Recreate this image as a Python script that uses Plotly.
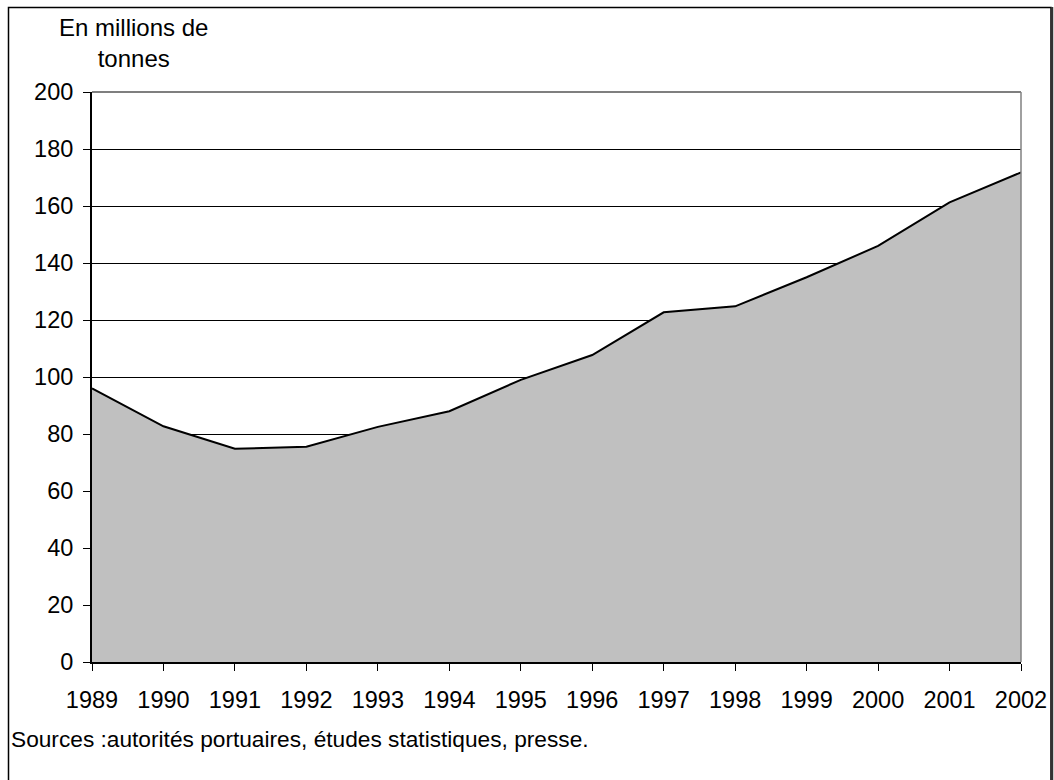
import plotly.graph_objects as go

years = [1989, 1990, 1991, 1992, 1993, 1994, 1995, 1996, 1997, 1998, 1999, 2000, 2001, 2002]
tonnes = [96, 82.7, 74.8, 75.5, 82.5, 88, 99, 107.7, 122.7, 124.8, 135, 146, 161.3, 171.8]
y_ticks = [0, 20, 40, 60, 80, 100, 120, 140, 160, 180, 200]
unit_label = "En millions de<br>tonnes"
source_text = "Sources :autorités portuaires, études statistiques, presse."

FONT = "Liberation Sans, Arial, sans-serif"

fig = go.Figure()
fig.add_trace(go.Scatter(
    x=years, y=tonnes, mode="lines", fill="tozeroy",
    fillcolor="#C0C0C0", line=dict(color="black", width=2),
    hoverinfo="skip", showlegend=False,
))

L, R, T, B = 92, 33, 92, 118
W, H = 1054, 780
pw, ph = W - L - R, H - T - B

def px_x(x):
    return (x - L) / pw

def px_y(y):
    return (H - B - y) / ph

fig.update_layout(
    width=W, height=H,
    margin=dict(l=L, r=R, t=T, b=B, autoexpand=False),
    paper_bgcolor="white", plot_bgcolor="white",
    font=dict(family=FONT, color="black", size=23),
    xaxis=dict(
        range=[1989, 2002], tickmode="array", tickvals=years,
        ticktext=[str(y) for y in years],
        showgrid=False, zeroline=False,
        showline=True, linecolor="black", linewidth=2,
        ticks="outside", ticklen=7, tickwidth=1, tickcolor="black",
        tickfont=dict(size=23.5), ticklabelstandoff=9,
    ),
    yaxis=dict(
        range=[0, 200], tickmode="array", tickvals=y_ticks,
        showgrid=True, gridcolor="black", gridwidth=1,
        zeroline=False, showline=True, linecolor="black", linewidth=2,
        ticks="outside", ticklen=7, tickwidth=1, tickcolor="black",
        tickfont=dict(size=23.5), ticklabelstandoff=5,
    ),
    shapes=[
        dict(type="line", xref="paper", yref="paper", x0=0, x1=1, y0=1, y1=1,
             line=dict(color="#555555", width=1.5)),
        dict(type="line", xref="paper", yref="paper", x0=1, x1=1, y0=0, y1=1,
             line=dict(color="#808080", width=1.5)),
        dict(type="rect", xref="paper", yref="paper",
             x0=px_x(8.5), x1=px_x(1051), y0=px_y(7.5), y1=px_y(790),
             line=dict(color="black", width=1.5)),
        dict(type="line", xref="paper", yref="paper",
             x0=px_x(1052), x1=px_x(1052), y0=px_y(7), y1=px_y(790),
             line=dict(color="#333333", width=2.5)),
    ],
    annotations=[
        dict(text=unit_label, xref="paper", yref="paper",
             x=px_x(133), y=px_y(43), xanchor="center", yanchor="middle",
             showarrow=False, align="center", font=dict(size=24)),
        dict(text=source_text, xref="paper", yref="paper",
             x=px_x(9), y=px_y(739), xanchor="left", yanchor="middle",
             showarrow=False, align="left", font=dict(size=22.7)),
    ],
)

fig.write_html(
    "out.html",
    config={"displayModeBar": False},
    post_script="document.body.style.margin='0';document.body.style.overflow='hidden';",
)
